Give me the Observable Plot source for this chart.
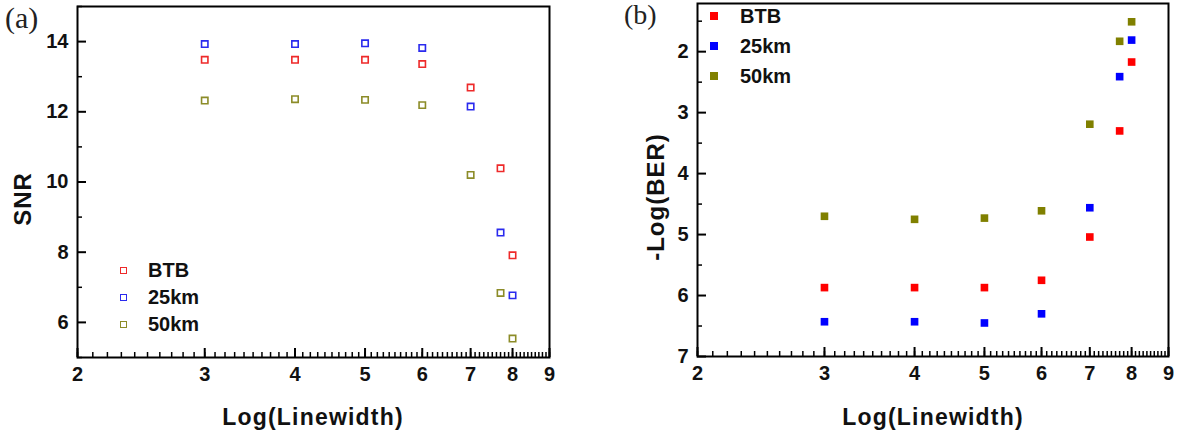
<!DOCTYPE html>
<html>
<head>
<meta charset="utf-8">
<script src="https://cdn.jsdelivr.net/npm/d3@7"></script>
<script src="https://cdn.jsdelivr.net/npm/@observablehq/plot@0.6"></script>
<style>
  html, body { margin: 0; padding: 0; background: #fff; }
  #wrap { position: relative; width: 1180px; height: 444px; overflow: hidden; font-family: "Liberation Sans", Arial, sans-serif; }
  .panel { position: absolute; top: 0; width: 590px; height: 444px; }
  .panel svg { max-width: none !important; }
  .txt { position: absolute; white-space: nowrap; font-weight: bold; color: #111; line-height: 1; }
  .rot { transform: translate(-50%, -50%) rotate(-90deg); }
  .ctr { transform: translate(-50%, -50%); }
  .tag { position: absolute; font-family: "Liberation Serif", "Times New Roman", serif; color: #222; line-height: 1; }
  .leg { position: absolute; display: flex; align-items: center; font-weight: bold; font-size: 20px; color: #111; line-height: 1; }
  .sw { display: inline-block; box-sizing: border-box; }
</style>
</head>
<body>
<div id="wrap"></div>
<script>
// ---- data ----
const series = ["BTB", "25km", "50km"];
const xValues = [3, 4, 5, 6, 7, 7.7, 8];
// panel (a) SNR
const snrBTB = [13.48, 13.48, 13.48, 13.36, 12.69, 10.39, 7.91];
const snr25km = [13.93, 13.93, 13.95, 13.82, 12.15, 8.56, 6.77];
const snr50km = [12.32, 12.36, 12.34, 12.19, 10.20, 6.84, 5.54];
// panel (b) -Log(BER)
const berBTB = [5.87, 5.87, 5.87, 5.75, 5.04, 3.30, 2.17];
const ber25km = [6.43, 6.43, 6.45, 6.30, 4.56, 2.41, 1.81];
const ber50km = [4.70, 4.75, 4.73, 4.61, 3.19, 1.83, 1.51];
// ticks
const xTicks = [2, 3, 4, 5, 6, 7, 8, 9];
const xMinor = d3.range(20, 91).map(v => v / 10);
const snrTicks = [6, 8, 10, 12, 14];
const snrMinor = [5, 7, 9, 11, 13, 15];
const berTicks = [2, 3, 4, 5, 6, 7];
const berMinor = [1.5, 2.5, 3.5, 4.5, 5.5, 6.5];

const colorsA = ["#ee2a2a", "#2a2aee", "#8c8c28"];
const colorsB = ["#ff0000", "#0000ff", "#808000"];

function rows(lists) {
  const out = [];
  lists.forEach((vals, k) => vals.forEach((v, i) => out.push({x: xValues[i], y: v, s: series[k]})));
  return out;
}
const dataA = rows([snrBTB, snr25km, snr50km]);
const dataB = rows([berBTB, ber25km, ber50km]);

const W = 590, H = 444;
const style = {fontFamily: "'Liberation Sans', Arial, sans-serif", fontSize: "20px", fontWeight: "bold", color: "#111", background: "#fff", overflow: "visible"};

function panel({mL, mR, mT, mB, yDomain, yTicks, yMinor, data, colors, filled}) {
  const fh = H - mT - mB, fw = W - mL - mR;
  const k = fh / Math.abs(yDomain[1] - yDomain[0]); // px per y unit
  const sgn = Math.sign(yDomain[1] - yDomain[0]);
  const yb = yDomain[0];
  return Plot.plot({
    width: W, height: H,
    marginLeft: mL, marginRight: mR, marginTop: mT, marginBottom: mB,
    style,
    x: {type: "log", domain: [2, 9], ticks: xTicks, tickSize: 0, tickPadding: 9, tickFormat: d => String(d), label: null},
    y: {type: "linear", domain: yDomain, ticks: yTicks, tickSize: 0, tickPadding: 9, tickFormat: d => String(d), label: null},
    color: {domain: series, range: colors},
    marks: [
      Plot.frame({stroke: "#000", strokeWidth: 2, fill: "none"}),
      Plot.ruleX(xMinor, {x: d => d, y1: yb, y2: yb + sgn * 5 / k, stroke: "#000", strokeWidth: 1.5}),
      Plot.ruleX(xTicks, {x: d => d, y1: yb, y2: yb + sgn * 9 / k, stroke: "#000", strokeWidth: 2}),
      Plot.ruleY(yMinor, {y: d => d, x1: 2, x2: 2 * Math.pow(4.5, 5 / fw), stroke: "#000", strokeWidth: 1.5}),
      Plot.ruleY(yTicks, {y: d => d, x1: 2, x2: 2 * Math.pow(4.5, 9 / fw), stroke: "#000", strokeWidth: 2}),
      filled
        ? Plot.dot(data, {x: "x", y: "y", symbol: "square", r: 4.3, fill: "s", stroke: "none"})
        : Plot.dot(data, {x: "x", y: "y", symbol: "square", r: 3.6, fill: "none", stroke: "s", strokeWidth: 1.6})
    ]
  });
}

const wrap = document.getElementById("wrap");

const pa = document.createElement("div");
pa.className = "panel"; pa.style.left = "0px";
pa.appendChild(panel({mL: 77, mR: 41, mT: 6, mB: 87, yDomain: [5, 15], yTicks: snrTicks, yMinor: snrMinor, data: dataA, colors: colorsA, filled: false}));
wrap.appendChild(pa);

const pb = document.createElement("div");
pb.className = "panel"; pb.style.left = "590px";
pb.appendChild(panel({mL: 107, mR: 12, mT: 3, mB: 88, yDomain: [7, 1.21], yTicks: berTicks, yMinor: berMinor, data: dataB, colors: colorsB, filled: true}));
wrap.appendChild(pb);

function addText(cls, text, x, y, size, spacing) {
  const d = document.createElement("div");
  d.className = "txt " + cls;
  d.textContent = text;
  d.style.left = x + "px"; d.style.top = y + "px";
  d.style.fontSize = size + "px";
  if (spacing) d.style.letterSpacing = spacing + "px";
  wrap.appendChild(d);
}
addText("rot", "SNR", 23, 199, 24, 1);
addText("ctr", "Log(Linewidth)", 313, 417, 23, 1.2);
addText("rot", "-Log(BER)", 656, 197, 24, 1);
addText("ctr", "Log(Linewidth)", 933, 417, 23, 1.2);

function addTag(text, x, y, size) {
  const d = document.createElement("div");
  d.className = "tag"; d.textContent = text;
  d.style.left = x + "px"; d.style.top = y + "px";
  d.style.fontSize = size + "px";
  wrap.appendChild(d);
}
addTag("(a)", 5, 3, 30);
addTag("(b)", 624, 1, 28);

function addLegend(x, y0, step, colors, filled, size) {
  series.forEach((s, i) => {
    const d = document.createElement("div");
    d.className = "leg";
    d.style.left = (x - size / 2) + "px";
    d.style.top = (y0 + i * step - 11) + "px";
    d.style.height = "22px";
    const sw = document.createElement("span");
    sw.className = "sw";
    sw.style.width = size + "px"; sw.style.height = size + "px";
    if (filled) sw.style.background = colors[i];
    else sw.style.border = "1.6px solid " + colors[i];
    const t = document.createElement("span");
    t.textContent = s;
    t.style.marginLeft = (filled ? 26 - size / 2 : 25 - size / 2) + "px";
    d.appendChild(sw); d.appendChild(t);
    wrap.appendChild(d);
  });
}
addLegend(123, 270, 27, colorsA, false, 7);
addLegend(714, 16, 30, colorsB, true, 8);
</script>
</body>
</html>
